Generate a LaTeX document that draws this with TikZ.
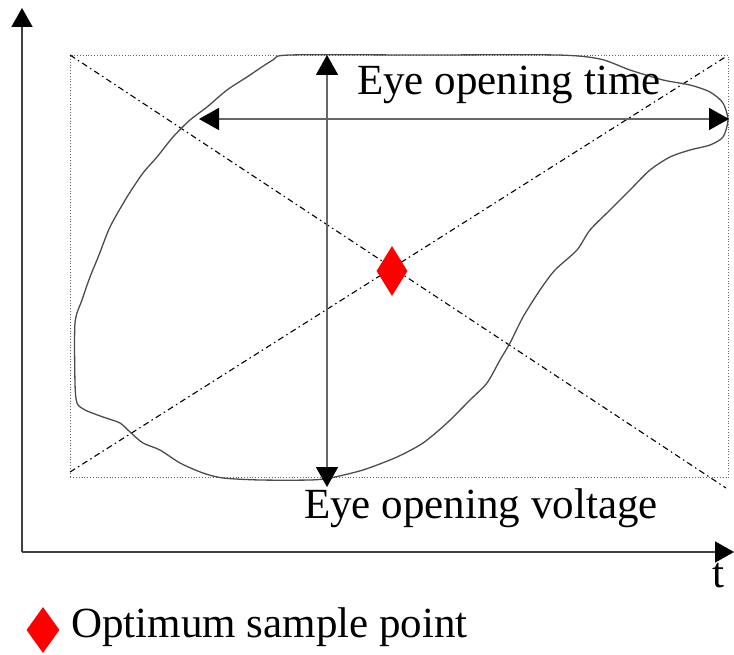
\documentclass[tikz,border=0pt]{standalone}
\usepackage{fontspec}
\setmainfont{Liberation Serif}
\usetikzlibrary{arrows.meta,shapes.geometric}
\begin{document}
\begin{tikzpicture}[x=1pt,y=-1pt,
  axis/.style={draw=black!75,line width=1.8pt,-{Triangle[length=19pt,width=21pt,color=black]}},
  dimarrow/.style={draw=black!60,line width=1.6pt,{Triangle[length=20pt,width=22pt,color=black]}-{Triangle[length=20pt,width=22pt,color=black]}},
  diag/.style={draw=black,line width=1.1pt,dash pattern=on 6pt off 3.5pt on 1.5pt off 3.5pt},
  frame/.style={draw=black!60,line width=0.8pt,dotted},
  eye/.style={draw=black!70,line width=1.3pt},
  lbl/.style={font=\fontsize{43}{48}\selectfont,inner sep=0pt,anchor=base west},
  gem/.style={diamond,fill=red,draw=none,inner sep=0pt,minimum width=#1}
]
\useasboundingbox (0,0) rectangle (734,655);
% axes
\coordinate (o) at (22,552);
\coordinate (ytop) at (22,8);
\coordinate (xend) at (734,552);
\draw[axis] (o) -- (ytop);
\draw[axis] (o) -- (xend);
% dotted frame
\node[frame,inner sep=0pt,minimum width=658pt,minimum height=422pt,anchor=north west] (fr) at (70,55) {};
% diagonals
\coordinate (d1a) at (70,55);
\coordinate (d1b) at (726,488);
\coordinate (d2a) at (70,472);
\coordinate (d2b) at (727,56);
\draw[diag] (d1a) -- (d1b);
\draw[diag] (d2a) -- (d2b);
% eye contour
\draw[eye] plot[smooth cycle,tension=0.45] coordinates {
(290,55) (420,55) (557,55) (600,59) (630,70) (663,80) (690,85) (710,92) (723,103) (728,120) (723,137) (710,145) (690,150) (670,157) (650,170) (630,190) (610,210) (590,230) (577,250) (555,270) (540,290) (523,317) (510,343) (500,360) (487,383) (470,400) (447,423) (423,443) (397,457) (363,470) (330,478) (310,480) (260,480) (223,478) (203,473) (180,463) (160,450) (143,443) (130,432) (120,423) (103,417) (85,410) (77,403) (75,383) (75,323) (82,300) (90,277) (99,255) (110,227) (127,197) (143,173) (157,157) (173,137) (190,120) (207,107) (227,90) (247,77) (273,60)};
% dimension arrows
\coordinate (vt) at (327,55);
\coordinate (vb) at (327,487);
\coordinate (hl) at (199,119);
\coordinate (hr) at (729,119);
\draw[dimarrow] (vt) -- (vb);
\draw[dimarrow] (hl) -- (hr);
% optimum point
\node[gem=31pt,minimum height=50pt] (opt) at (392,271) {};
% labels
\node[lbl] (ttime) at (357,95) {Eye opening time};
\node[lbl] (tvolt) at (304,518) {Eye opening voltage};
\node[lbl] (tt) at (712,587) {t};
\node[gem=33pt,minimum height=46pt] (leg) at (43,630) {};
\node[lbl] (tleg) at (71,637) {Optimum sample point};
\end{tikzpicture}
\end{document}
